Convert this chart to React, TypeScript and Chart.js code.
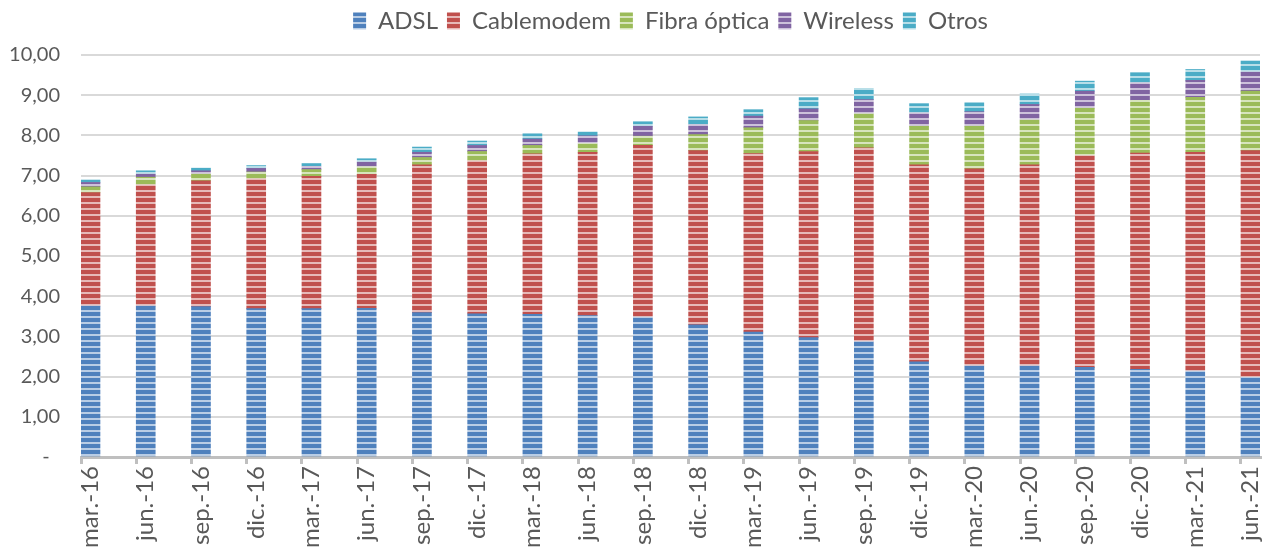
import React, { useEffect, useRef } from 'react';
import { Chart, registerables, CategoryScale } from 'chart.js';

Chart.register(...registerables);

// ---------- data ----------
const categories = [
  'mar.-16', 'jun.-16', 'sep.-16', 'dic.-16',
  'mar.-17', 'jun.-17', 'sep.-17', 'dic.-17',
  'mar.-18', 'jun.-18', 'sep.-18', 'dic.-18',
  'mar.-19', 'jun.-19', 'sep.-19', 'dic.-19',
  'mar.-20', 'jun.-20', 'sep.-20', 'dic.-20',
  'mar.-21', 'jun.-21',
];
const adsl = [3.76, 3.76, 3.74, 3.69, 3.69, 3.70, 3.59, 3.56, 3.55, 3.52, 3.48, 3.29, 3.11, 2.97, 2.87, 2.37, 2.27, 2.27, 2.23, 2.18, 2.14, 1.98];
const cablemodem = [2.82, 3.01, 3.13, 3.23, 3.29, 3.33, 3.68, 3.81, 3.99, 4.06, 4.27, 4.33, 4.44, 4.63, 4.82, 4.90, 4.90, 5.00, 5.27, 5.38, 5.44, 5.64];
const fibraOptica = [0.14, 0.19, 0.17, 0.17, 0.17, 0.19, 0.18, 0.23, 0.21, 0.22, 0.23, 0.40, 0.64, 0.77, 0.85, 0.96, 1.06, 1.12, 1.18, 1.31, 1.37, 1.48];
const wireless = [0.11, 0.08, 0.08, 0.09, 0.08, 0.12, 0.13, 0.15, 0.16, 0.19, 0.25, 0.25, 0.29, 0.29, 0.35, 0.33, 0.36, 0.38, 0.42, 0.44, 0.42, 0.48];
const otros = [0.07, 0.08, 0.07, 0.07, 0.07, 0.08, 0.13, 0.11, 0.13, 0.10, 0.11, 0.19, 0.16, 0.28, 0.28, 0.23, 0.22, 0.26, 0.25, 0.25, 0.27, 0.27];

const seriesNames = ['ADSL', 'Cablemodem', 'Fibra óptica', 'Wireless', 'Otros'];
const seriesValues = [adsl, cablemodem, fibraOptica, wireless, otros];
const seriesColors = ['#4F81BD', '#C0504D', '#9BBB59', '#8064A2', '#4BACC6'];

const yMin = 0;
const yMax = 10;
const yStep = 1;

// ---------- style constants ----------
const FONT = 'Lato, "Noto Sans", sans-serif';
const TEXT_COLOR = '#595959';
const BAR_THICKNESS = 19;
const EDGE_EXTRA = 0.344; // extra category range so the last bar fits inside the plot

class EdgeCategoryScale extends CategoryScale {
  static id = 'edgeCategory';
  buildTicks() {
    const t = super.buildTicks();
    (this as any)._valueRange += EDGE_EXTRA;
    return t;
  }
}
Chart.register(EdgeCategoryScale as any);

function mixWhite(hex: string, t: number) {
  const n = parseInt(hex.slice(1), 16);
  const r = (n >> 16) & 255, g = (n >> 8) & 255, b = n & 255;
  const m = (c: number) => Math.round(c + (255 - c) * t);
  return `rgb(${m(r)},${m(g)},${m(b)})`;
}

function makeStripePattern(color: string): CanvasPattern | string {
  const c = document.createElement('canvas');
  c.width = 8;
  c.height = 6;
  const ctx = c.getContext('2d');
  if (!ctx) return color;
  ctx.fillStyle = color;
  ctx.fillRect(0, 0, 8, 6);
  ctx.fillStyle = mixWhite(color, 0.6);
  ctx.fillRect(0, 4, 8, 2);
  return ctx.createPattern(c, 'repeat') || color;
}

export default function App() {
  const ref = useRef<HTMLCanvasElement>(null);

  useEffect(() => {
    const canvas = ref.current;
    if (!canvas) return;

    const datasets: any[] = [
      {
        label: '',
        data: categories.map(() => null),
        stack: 'pad',
        backgroundColor: 'rgba(0,0,0,0)',
      },
      ...seriesNames.map((name, i) => ({
        label: name,
        data: seriesValues[i],
        stack: 'main',
        backgroundColor: makeStripePattern(seriesColors[i]),
        borderWidth: 0,
      })),
    ];

    const legendHeightPlugin = {
      id: 'legendHeight',
      afterInit(chart: any) {
        const lg = chart.legend;
        if (lg) {
          const orig = lg.fit.bind(lg);
          lg.fit = () => {
            orig();
            lg.height = 55;
          };
        }
      },
    };

    const chart = new Chart(canvas, {
      type: 'bar',
      data: { labels: categories, datasets },
      plugins: [legendHeightPlugin],
      options: {
        animation: false,
        responsive: false,
        maintainAspectRatio: false,
        barThickness: BAR_THICKNESS,
        layout: { padding: { left: 0, right: 15, top: 0, bottom: 0 } },
        plugins: {
          tooltip: { enabled: false },
          legend: {
            position: 'top',
            fullSize: false,
            labels: {
              boxWidth: 13,
              boxHeight: 17,
              padding: 9,
              color: TEXT_COLOR,
              font: { family: FONT, size: 24 },
              filter: (item: any) => item.text !== '',
            },
          },
        },
        scales: {
          x: {
            type: 'edgeCategory' as any,
            stacked: true,
            offset: false,
            grid: {
              offset: false,
              display: true,
              drawOnChartArea: false,
              drawTicks: true,
              tickLength: 7,
              color: '#BFBFBF',
              lineWidth: 3,
            },
            border: { display: true, color: '#BFBFBF', width: 3 },
            ticks: {
              autoSkip: false,
              maxRotation: 90,
              minRotation: 90,
              labelOffset: BAR_THICKNESS / 2,
              padding: 2,
              color: TEXT_COLOR,
              font: { family: FONT, size: 24 },
            },
            afterFit: (s: any) => {
              s.height = 91;
            },
          },
          y: {
            stacked: true,
            min: yMin,
            max: yMax,
            ticks: {
              stepSize: yStep,
              padding: 21,
              color: TEXT_COLOR,
              font: { family: FONT, size: 20 },
              callback: (v: any) => (Number(v) === 0 ? '-  ' : Number(v).toFixed(2).replace('.', ',')),
            },
            grid: { color: '#D9D9D9', lineWidth: 2, drawTicks: false },
            border: { display: false },
            afterFit: (s: any) => {
              s.width = 81;
            },
          },
        },
      } as any,
    });

    return () => chart.destroy();
  }, []);

  return (
    <div
      style={{
        position: 'absolute',
        left: 0,
        top: 0,
        width: 1275,
        height: 548,
        overflow: 'hidden',
        background: '#ffffff',
      }}
    >
      <canvas ref={ref} width={1275} height={548} style={{ display: 'block' }} />
    </div>
  );
}
